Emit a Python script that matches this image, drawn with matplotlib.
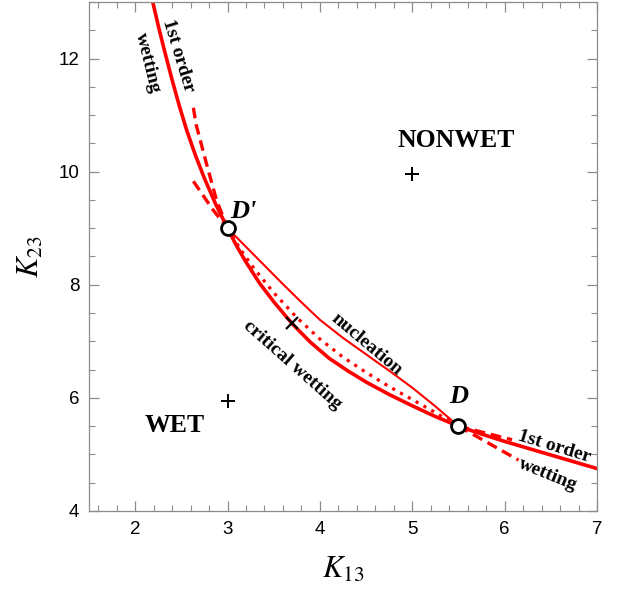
import matplotlib.pyplot as plt
from matplotlib.ticker import MultipleLocator

plt.rcParams['mathtext.fontset'] = 'stix'

# thick solid line: 1st order wetting -> critical wetting -> 1st order wetting
k13_wet = [2.19, 2.25, 2.32, 2.40, 2.48, 2.56, 2.65, 2.75, 2.87, 3.0,
           3.1, 3.2, 3.35, 3.5, 3.7, 3.9, 4.1, 4.3, 4.5, 4.75, 5.0, 5.25, 5.5,
           5.75, 6.0, 6.25, 6.5, 6.75, 7.0]
k23_wet = [13.0, 12.58, 12.12, 11.62, 11.15, 10.72, 10.30, 9.88, 9.43, 9.0,
           8.68, 8.40, 8.02, 7.70, 7.31, 6.98, 6.70, 6.48, 6.28, 6.06, 5.86, 5.67, 5.5,
           5.36, 5.23, 5.11, 4.99, 4.87, 4.75]

# thin solid line: nucleation
k13_nuc = [3.0, 3.2, 3.4, 3.6, 3.8, 4.0, 4.25, 4.5, 4.75, 5.0, 5.25, 5.5]
k23_nuc = [9.0, 8.67, 8.34, 8.01, 7.69, 7.38, 7.06, 6.77, 6.48, 6.18, 5.85, 5.5]

# dotted line
k13_dot = [3.0, 3.15, 3.3, 3.5, 3.75, 4.0, 4.25, 4.5, 4.75, 5.0, 5.25, 5.5]
k23_dot = [9.0, 8.6, 8.26, 7.86, 7.42, 7.04, 6.72, 6.45, 6.2, 5.97, 5.74, 5.5]

# dashed branches near D' and D
k13_dash1 = [2.63, 2.66, 2.77, 2.88, 3.0]
k23_dash1 = [11.13, 10.83, 10.15, 9.50, 9.0]
k13_dash2 = [2.63, 2.84, 3.0]
k23_dash2 = [9.83, 9.33, 9.0]
k13_dash3 = [5.5, 6.08]
k23_dash3 = [5.5, 5.26]
k13_dash4 = [5.5, 6.15]
k23_dash4 = [5.5, 4.9]

# special points
pts_k13 = [3.0, 5.5]
pts_k23 = [9.0, 5.5]
plus_k13 = [5.0, 3.0]
plus_k23 = [9.95, 5.95]
cross_k13 = [3.7]
cross_k23 = [7.33]

fig = plt.figure(figsize=(6.30, 5.91), dpi=100)
ax = fig.add_axes([0.1413, 0.1354, 0.8063, 0.8612])

red = '#ff0000'
ax.plot(k13_wet, k23_wet, color=red, lw=2.6, solid_joinstyle='round')
ax.plot(k13_nuc, k23_nuc, color=red, lw=1.5, solid_joinstyle='round')
ax.plot(k13_dot, k23_dot, color=red, lw=2.3, linestyle=(0, (1, 1.8)))
for xs, ys in [(k13_dash1, k23_dash1), (k13_dash2, k23_dash2),
               (k13_dash3, k23_dash3), (k13_dash4, k23_dash4)]:
    ax.plot(xs, ys, color=red, lw=2.4, linestyle=(0, (3.2, 1.8)))

ax.plot(plus_k13, plus_k23, '+', color='black', ms=10, mew=1.4)
ax.plot(cross_k13, cross_k23, 'x', color='black', ms=8, mew=1.6)
ax.plot(pts_k13, pts_k23, 'o', ms=10, mfc='white', mec='black', mew=2.0, zorder=5)

serif = 'Liberation Serif'
tkw = dict(family=serif, weight='bold', ha='center', va='center')
ax.text(5.48, 10.55, 'NONWET', fontsize=18.5, **tkw)
ax.text(2.43, 5.52, 'WET', fontsize=18.5, **tkw)
ax.text(3.17, 9.3, "D'", fontsize=19, style='italic', **tkw)
ax.text(5.5, 6.02, 'D', fontsize=19, style='italic', **tkw)
ax.text(2.47, 12.06, '1st order', fontsize=14, rotation=-73, **tkw)
ax.text(2.14, 11.92, 'wetting', fontsize=14, rotation=-76, **tkw)
ax.text(4.51, 6.94, 'nucleation', fontsize=14, rotation=-40, **tkw)
ax.text(3.70, 6.58, 'critical wetting', fontsize=14, rotation=-41.5, **tkw)
ax.text(6.54, 5.14, '1st order', fontsize=14, rotation=-17, **tkw)
ax.text(6.47, 4.64, 'wetting', fontsize=14, rotation=-22, **tkw)

ax.set_xlim(1.5, 7)
ax.set_ylim(4, 13)
ax.xaxis.set_major_locator(MultipleLocator(1))
ax.xaxis.set_minor_locator(MultipleLocator(0.2))
ax.yaxis.set_major_locator(MultipleLocator(2))
ax.yaxis.set_minor_locator(MultipleLocator(0.5))
ax.tick_params(which='both', direction='in', top=True, right=True, color='0.55')
ax.tick_params(which='major', length=7, width=0.9, labelsize=13.5, pad=7)
ax.tick_params(which='minor', length=4, width=0.8)
for lab in ax.get_xticklabels() + ax.get_yticklabels():
    lab.set_family('Liberation Sans')
for s in ax.spines.values():
    s.set_color('0.55')
    s.set_linewidth(0.9)

ax.set_xlabel('$K_{13}$', fontsize=22, labelpad=12)
ax.set_ylabel('$K_{23}$', fontsize=22, labelpad=10)

fig.savefig('out.png', dpi=100)
